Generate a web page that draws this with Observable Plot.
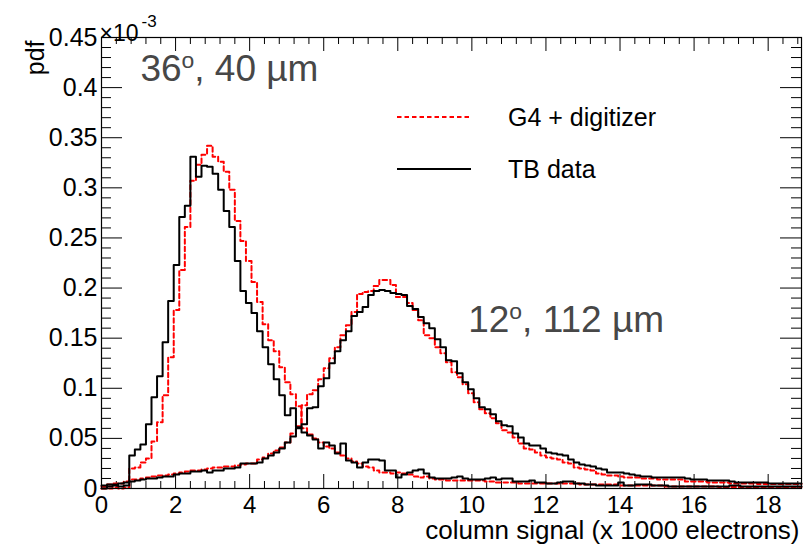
<!DOCTYPE html>
<html>
<head>
<meta charset="utf-8">
<script src="https://cdn.jsdelivr.net/npm/d3@7"></script>
<script src="https://cdn.jsdelivr.net/npm/@observablehq/plot@0.6"></script>
<style>
  html, body { margin: 0; padding: 0; background: #fff; }
  #wrap { position: relative; width: 807px; height: 548px; font-family: "Liberation Sans", Arial, sans-serif; }
  #legend { position: absolute; left: 396px; top: 91px; }
  .item { display: flex; align-items: center; height: 52px; }
  .item span { font-size: 25px; margin-left: 36px; color: #000; }
</style>
</head>
<body>
<div id="wrap"><div id="chart"></div><div id="legend"></div></div>
<script>
// Histogram binning (x in units of 1000 electrons)
const xStart = 0;
const binWidth = 0.15;

// pdf values, in units of 1e-3, one per bin
const tb36 = [
  0.000,0.002,0.003,0.002,0.003,0.033,0.039,0.044,0.064,0.091,
  0.112,0.146,0.187,0.223,0.271,0.282,0.331,0.311,0.322,0.321,
  0.314,0.298,0.277,0.261,0.227,0.197,0.185,0.175,0.157,0.141,
  0.124,0.109,0.093,0.073,0.080,0.061,0.056,0.053,0.049,0.040,
  0.046,0.043,0.035,0.045,0.028,0.026,0.021,0.026,0.029,0.029,
  0.028,0.018,0.018,0.011,0.014,0.016,0.018,0.019,0.015,0.011,
  0.010,0.010,0.010,0.011,0.012,0.010,0.009,0.009,0.009,0.010,
  0.011,0.009,0.010,0.010,0.007,0.007,0.007,0.008,0.006,0.006,
  0.005,0.005,0.006,0.007,0.007,0.005,0.005,0.004,0.004,0.003,
  0.003,0.003,0.003,0.006,0.003,0.003,0.004,0.004,0.004,0.003,
  0.003,0.003,0.002,0.002,0.002,0.002,0.002,0.002,0.002,0.002,
  0.002,0.002,0.002,0.003,0.003,0.002,0.002,0.002,0.002,0.002,
  0.002,0.002,0.002,0.002,0.002,0.002
];
const g436 = [
  0.000,0.000,0.001,0.000,0.001,0.020,0.021,0.026,0.030,0.047,
  0.066,0.093,0.131,0.178,0.218,0.261,0.307,0.323,0.333,0.342,
  0.331,0.326,0.316,0.298,0.267,0.247,0.227,0.206,0.186,0.164,
  0.148,0.137,0.121,0.106,0.094,0.082,0.060,0.054,0.050,0.046,
  0.042,0.040,0.036,0.033,0.030,0.027,0.025,0.022,0.021,0.018,
  0.016,0.016,0.015,0.016,0.015,0.014,0.012,0.011,0.012,0.010,
  0.009,0.009,0.008,0.008,0.008,0.008,0.008,0.008,0.008,0.007,
  0.007,0.006,0.006,0.006,0.006,0.005,0.005,0.005,0.005,0.005,
  0.005,0.005,0.005,0.005,0.005,0.005,0.004,0.004,0.004,0.004,
  0.004,0.004,0.004,0.003,0.003,0.003,0.003,0.003,0.003,0.003,
  0.003,0.002,0.002,0.002,0.002,0.002,0.002,0.002,0.002,0.002,
  0.002,0.0015,0.0015,0.0015,0.0015,0.0015,0.0015,0.0015,0.0015,0.0015,
  0.0015,0.0015,0.0015,0.0015,0.0015,0.0015
];
const tb12 = [
  0.003,0.004,0.004,0.005,0.006,0.007,0.008,0.009,0.010,0.010,
  0.011,0.012,0.012,0.014,0.015,0.015,0.017,0.017,0.018,0.016,
  0.018,0.018,0.020,0.020,0.021,0.025,0.025,0.025,0.026,0.030,
  0.033,0.036,0.040,0.046,0.052,0.060,0.064,0.080,0.081,0.102,
  0.110,0.125,0.137,0.148,0.157,0.172,0.176,0.181,0.193,0.197,
  0.198,0.197,0.195,0.194,0.193,0.182,0.179,0.171,0.165,0.160,
  0.149,0.141,0.128,0.127,0.115,0.106,0.099,0.090,0.081,0.079,
  0.074,0.067,0.063,0.062,0.055,0.051,0.045,0.043,0.043,0.040,
  0.036,0.035,0.034,0.033,0.029,0.026,0.024,0.023,0.022,0.020,
  0.019,0.016,0.016,0.016,0.015,0.014,0.013,0.012,0.012,0.011,
  0.011,0.011,0.011,0.011,0.011,0.010,0.009,0.009,0.009,0.008,
  0.008,0.008,0.008,0.007,0.006,0.006,0.006,0.006,0.006,0.006,
  0.005,0.005,0.005,0.005,0.005,0.005
];
const g412 = [
  0.002,0.004,0.005,0.005,0.007,0.009,0.009,0.010,0.011,0.012,
  0.013,0.013,0.014,0.015,0.016,0.017,0.018,0.018,0.019,0.020,
  0.021,0.021,0.022,0.022,0.023,0.024,0.025,0.025,0.029,0.031,
  0.035,0.038,0.041,0.046,0.055,0.062,0.083,0.094,0.098,0.109,
  0.120,0.130,0.141,0.153,0.163,0.176,0.194,0.196,0.197,0.202,
  0.208,0.208,0.203,0.191,0.191,0.185,0.178,0.168,0.153,0.150,
  0.141,0.135,0.126,0.116,0.111,0.104,0.095,0.086,0.079,0.075,
  0.070,0.065,0.058,0.056,0.051,0.045,0.040,0.039,0.036,0.033,
  0.031,0.030,0.029,0.026,0.025,0.021,0.020,0.019,0.018,0.015,
  0.014,0.013,0.013,0.012,0.011,0.011,0.011,0.010,0.010,0.010,
  0.009,0.009,0.009,0.009,0.009,0.007,0.007,0.007,0.007,0.006,
  0.006,0.006,0.006,0.005,0.005,0.005,0.005,0.005,0.0045,0.0045,
  0.0045,0.0045,0.0045,0.0045,0.0045,0.0045
];

const xTicks = [0, 2, 4, 6, 8, 10, 12, 14, 16, 18];
const yTicks = [0, 0.05, 0.1, 0.15, 0.2, 0.25, 0.3, 0.35, 0.4, 0.45];
const xMinorStep = 0.4;
const yMinorStep = 0.01;

const series = [
  {label: "G4 + digitizer", color: "#ff0000", dash: "4.5,3", data: [g436, g412]},
  {label: "TB data", color: "#000000", dash: null, data: [tb36, tb12]}
];
const annotations = [
  {text: "36º, 40 µm", x: 1.05, y: 0.418},
  {text: "12º, 112 µm", x: 9.9, y: 0.168}
];
const annotationSize = 37;

const W = 807, H = 548;
const mL = 101, mR = 6, mT = 37, mB = 60;
const pw = W - mL - mR, ph = H - mT - mB;
const xMax = xStart + tb36.length * binWidth;

function steps(values) {
  const pts = values.map((v, i) => ({x: xStart + i * binWidth, y: v}));
  pts.push({x: xStart + values.length * binWidth, y: values[values.length - 1]});
  return pts;
}
const xMinor = d3.range(0, xMax + 1e-9, xMinorStep).filter(v => !xTicks.some(t => Math.abs(t - v) < 1e-6));
const yMinor = d3.range(0, 0.45 + 1e-9, yMinorStep).filter(v => !yTicks.some(t => Math.abs(t - v) < 1e-6));

const histMarks = [];
for (const s of series) {
  for (const d of s.data) {
    histMarks.push(Plot.line(steps(d), {x: "x", y: "y", curve: "step-after", stroke: s.color,
      strokeWidth: 2, strokeDasharray: s.dash || undefined}));
  }
}

const chart = Plot.plot({
  width: W, height: H,
  marginLeft: mL, marginRight: mR, marginTop: mT, marginBottom: mB,
  style: {fontFamily: '"Liberation Sans", Arial, sans-serif', background: "#fff", overflow: "visible"},
  x: {domain: [xStart, xMax]},
  y: {domain: [0, 0.45]},
  marks: [
    // ticks (inside the frame, on all four sides)
    Plot.ruleX(xTicks, {stroke: "#000", strokeWidth: 1, insetTop: ph - 14}),
    Plot.ruleX(xMinor, {stroke: "#000", strokeWidth: 1, insetTop: ph - 7}),
    Plot.ruleX(xTicks, {stroke: "#000", strokeWidth: 1, insetBottom: ph - 14}),
    Plot.ruleX(xMinor, {stroke: "#000", strokeWidth: 1, insetBottom: ph - 7}),
    Plot.ruleY(yTicks, {stroke: "#000", strokeWidth: 1, insetRight: pw - 21}),
    Plot.ruleY(yMinor, {stroke: "#000", strokeWidth: 1, insetRight: pw - 10}),
    Plot.ruleY(yTicks, {stroke: "#000", strokeWidth: 1, insetLeft: pw - 21}),
    Plot.ruleY(yMinor, {stroke: "#000", strokeWidth: 1, insetLeft: pw - 10}),
    ...histMarks,
    Plot.frame({stroke: "#000", strokeWidth: 1.2}),
    Plot.axisX(xTicks, {label: null, tickSize: 0, tickPadding: 7, fontSize: 24, tickFormat: d => String(d), fill: "#000"}),
    Plot.axisY(yTicks, {label: null, tickSize: 0, tickPadding: 4, fontSize: 25, tickFormat: d => String(+d.toFixed(2)), fill: "#000"}),
    Plot.text(["column signal (x 1000 electrons)"], {frameAnchor: "bottom-right", dy: 50, dx: -2, textAnchor: "end", fontSize: 26, fill: "#000"}),
    Plot.text(["pdf"], {frameAnchor: "top-left", dx: -75, dy: 3, rotate: -90, textAnchor: "end", fontSize: 25, fill: "#000"}),
    Plot.text(["×10"], {frameAnchor: "top-left", dx: -2, dy: -13, textAnchor: "start", fontSize: 23, fill: "#000"}),
    Plot.text(["-3"], {frameAnchor: "top-left", dx: 40, dy: -23, textAnchor: "start", fontSize: 17, fill: "#000"}),
    Plot.text(annotations, {x: "x", y: "y", text: "text", textAnchor: "start", fontSize: annotationSize, fill: "#474747"})
  ]
});
document.getElementById("chart").appendChild(chart);

// render the ordinal "º" as a raised small "o" (as in the original ROOT label)
const rise = Math.round(annotationSize * 0.36);
d3.select(chart).selectAll("text").each(function() {
  const t = this.textContent;
  if (!t.includes("º")) return;
  const [a, b] = t.split("º");
  const sel = d3.select(this);
  sel.text(null);
  sel.append("tspan").text(a);
  sel.append("tspan").attr("dy", -rise).attr("font-size", "62%").text("o");
  sel.append("tspan").attr("dy", rise).text(b);
});

// legend
const lg = document.getElementById("legend");
for (const s of series) {
  const row = document.createElement("div");
  row.className = "item";
  row.innerHTML = `<svg width="76" height="6"><line x1="1" x2="75" y1="3" y2="3" stroke="${s.color}" stroke-width="2" ${s.dash ? `stroke-dasharray="${s.dash}"` : ""}/></svg><span>${s.label}</span>`;
  lg.appendChild(row);
}
</script>
</body>
</html>
